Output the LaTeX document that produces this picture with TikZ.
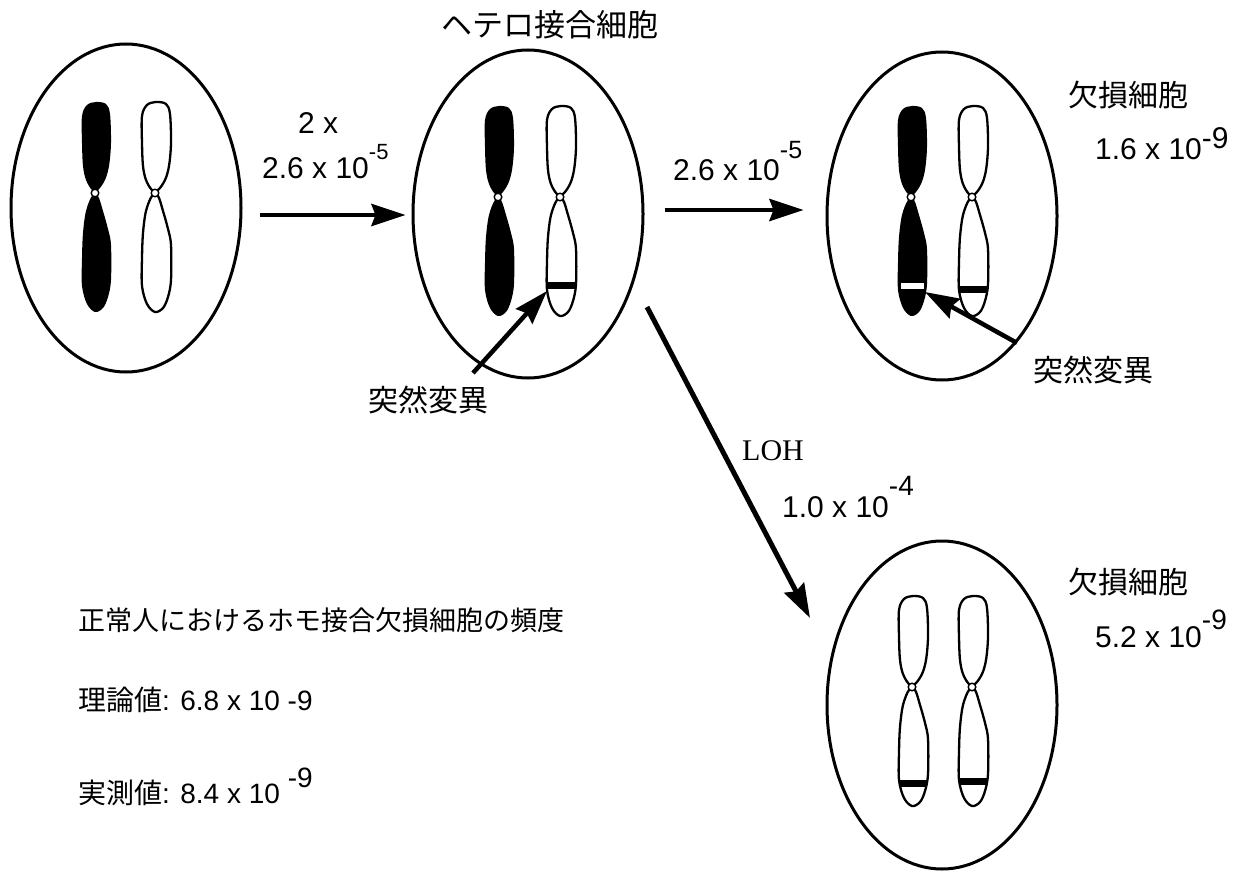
\documentclass[tikz,border=0pt]{standalone}
\usepackage{fontspec}
\setmainfont{Liberation Sans}
\newfontfamily\jp{Noto Sans CJK JP}
\newfontfamily\timesf{Liberation Serif}
\usetikzlibrary{shapes.geometric,arrows.meta}
% exponent: raise (pt), size (pt), text
\newcommand\expo[3]{\raisebox{#1pt}{\fontsize{#2}{#2}\selectfont #3}}

% outlines of the two arms, centromere at the origin, y pointing down
\def\armtop{plot[smooth cycle,tension=0.55] coordinates
  {(-3,-3) (-9,-13) (-12,-27) (-13,-50) (-13,-77) (-8,-88) (1,-91) (11,-89) (15,-79) (16,-50) (14,-27) (10,-13) (3,-3)}}
\def\armbot{plot[smooth cycle,tension=0.55] coordinates
  {(-3,3) (-9,18) (-12,40) (-13,65) (-13,93) (-8,111) (0,119) (8,115) (13,104) (16,87) (16,52) (13,36) (8,18) (3,3)}}

\tikzset{
  chromline/.style={line width=2.3pt, line join=round},
  pics/blackchrom/.style={code={
    \fill[black] \armtop;
    \fill[black] \armbot;
    \draw[fill=white, line width=1.4pt] (0,0) circle[radius=3.8];
  }},
  pics/whitechrom/.style={code={
    \draw[chromline, fill=white] \armtop;
    \draw[chromline, fill=white] \armbot;
    \draw[fill=white, line width=1.4pt] (0,0) circle[radius=3.8];
  }},
  pics/blackband/.style={code={
    \begin{scope}
      \clip \armbot;
      \fill[black] (-20,#1-3.5) rectangle (20,#1+3.5);
    \end{scope}
  }},
  pics/whiteband/.style={code={
    \fill[white] (-10,#1-3) rectangle (13,#1+3);
  }}
}

\begin{document}
\begin{tikzpicture}[x=1pt,y=-1pt,
  cell/.style={draw, ellipse, line width=3pt, inner sep=0pt,
    minimum width=230pt, minimum height=328pt},
  link/.style={line width=4.5pt, -{Stealth[length=34pt,width=22pt,inset=4pt]}},
  num/.style={font=\fontsize{30}{30}\selectfont, inner sep=0pt, anchor=base west},
  jlabel/.style={font=\jp\fontsize{30}{30}\selectfont, inner sep=0pt}
]
\useasboundingbox (0,0) rectangle (1239,872);

% cells
\node[cell] (c1) at (126,208) {};
\node[cell] (c2) at (528,214) {};
\node[cell] (c3) at (942,216) {};
\node[cell] (c4) at (942,705) {};

% chromosomes
\pic at (95,193) {blackchrom};
\pic at (155,193) {whitechrom};

\pic at (498,197) {blackchrom};
\pic at (560,197) {whitechrom};
\pic at (560,197) {blackband=88};

\pic at (911,197) {blackchrom};
\pic at (911,197) {whiteband=89};
\pic at (972,197) {whitechrom};
\pic at (972,197) {blackband=92};

\pic at (912,687) {whitechrom};
\pic at (912,687) {blackband=96};
\pic at (972,687) {whitechrom};
\pic at (972,687) {blackband=94};

% transitions
\draw[link] ([shift={(17,7)}]c1.east) -- ([shift={(-6,1)}]c2.west);
\draw[link] ([shift={(20,-4)}]c2.east) -- ([shift={(-22,-6)}]c3.west);
\draw[link, line width=5pt] ([shift={(119,93)}]c2.center) -- ([shift={(-132,-87)}]c4.center);

% mutation pointers
\coordinate (mut2) at (547,291);
\node[jlabel] (lab2) at (428,400) {突然変異};
\draw[link] ([shift={(45,-27)}]lab2.center) -- (mut2);
\coordinate (mut3) at (925,292);
\node[jlabel] (lab3) at (1093,370) {突然変異};
\draw[link] ([shift={(-76,-27)}]lab3.center) -- (mut3);

% labels
\node[jlabel, font=\jp\fontsize{31}{31}\selectfont] (title) at (550,25) {ヘテロ接合細胞};
\node[num] (r0) at (298,134) {2 x};
\node[num] (r1) at (262,178) {2.6 x 10\expo{19}{22}{-5}};
\node[num] (r2) at (673,180) {2.6 x 10\expo{22}{25}{-5}};
\node[jlabel] (d1) at (1128,95) {欠損細胞};
\node[num] (r3) at (1095,160) {1.6 x 10\expo{12}{30}{-9}};
\node[font=\timesf\fontsize{30}{30}\selectfont, inner sep=0pt, anchor=base west] (loh) at (742,460) {LOH};
\node[num] (r4) at (782,517) {1.0 x 10\expo{22}{28}{-4}};
\node[jlabel] (d2) at (1128,582) {欠損細胞};
\node[num] (r5) at (1095,647) {5.2 x 10\expo{18}{28}{-9}};

% summary
\node[font=\jp\fontsize{27}{27}\selectfont, inner sep=0pt, anchor=west] (freq) at (78,620)
  {正常人におけるホモ接合欠損細胞の頻度};
\node[font=\fontsize{28}{28}\selectfont, inner sep=0pt, anchor=base west] (theo) at (78,710)
  {{\jp 理論値}: 6.8 x 10 -9};
\node[font=\fontsize{28}{28}\selectfont, inner sep=0pt, anchor=base west] (meas) at (78,803)
  {{\jp 実測値}: 8.4 x 10 \raisebox{16pt}{-9}};
\end{tikzpicture}
\end{document}
